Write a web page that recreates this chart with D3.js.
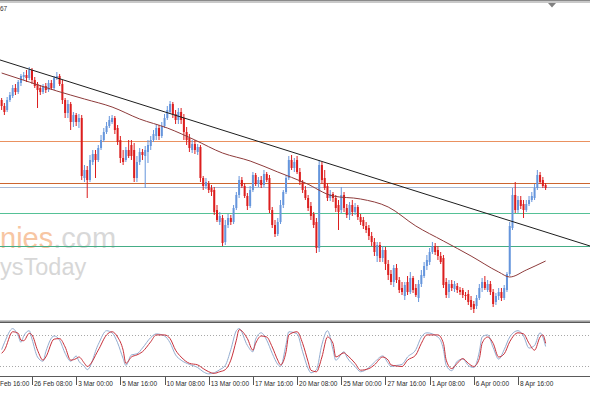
<!DOCTYPE html>
<html>
<head>
<meta charset="utf-8">
<script src="https://cdnjs.cloudflare.com/ajax/libs/d3/7.8.5/d3.min.js"></script>
<style>
body { margin: 0; background: #fff; }
svg { display: block; }
</style>
</head>
<body>
<div id="chart"></div>
<script>
var w = 590;
var h = 393;

// H4 bars, one row each: open, high, low, close
var ohlc = [
[300,302,290,294],[294,297,285,288],[290,303,288,300],[300,308,298,305],[304,315,302,312],
[312,316,305,308],[308,320,306,318],[317,326,314,324],[323,328,320,325],[325,330,318,322],
[322,333,320,330],[330,332,316,320],[320,323,312,314],[316,318,292,310],[312,315,305,308],
[308,316,306,314],[314,317,307,310],[310,320,308,317],[317,320,310,312],[312,324,310,322],
[322,328,320,324],[324,326,314,316],[316,320,296,300],[300,302,282,287],[287,300,282,296],
[296,298,270,278],[278,288,273,285],[285,287,274,278],[278,286,272,282],[282,285,220,224],
[222,235,218,230],[230,234,202,220],[220,245,218,240],[238,250,235,246],[246,250,222,240],
[240,255,238,252],[252,265,250,260],[260,272,258,268],[268,278,266,274],[274,284,272,280],
[278,285,276,282],[282,284,266,270],[272,275,255,258],[260,264,237,242],[242,250,235,238],
[240,253,238,250],[250,260,242,244],[255,260,240,244],[250,257,218,222],[222,244,218,238],
[238,252,235,248],[248,251,240,245],[244,254,212,250],[248,260,237,255],[254,264,250,260],
[260,270,258,266],[264,276,260,272],[272,275,260,264],[264,278,262,274],[274,286,272,282],
[282,294,280,290],[288,299,286,296],[296,298,282,286],[286,290,276,280],[280,292,276,288],
[288,292,276,280],[282,286,260,268],[268,273,255,260],[262,266,248,252],[250,260,247,256],
[256,260,246,250],[248,256,245,253],[253,255,218,222],[222,224,210,214],[214,222,211,218],
[216,219,207,210],[212,215,204,208],[210,213,185,188],[190,195,178,180],[178,188,175,184],
[182,185,154,157],[158,180,155,175],[175,186,172,182],[182,185,175,178],[178,195,176,192],
[192,208,190,205],[205,224,202,220],[220,223,212,214],[214,217,202,204],[204,207,190,194],
[194,214,192,210],[210,228,208,225],[225,227,214,216],[216,223,213,220],[220,224,212,215],
[215,230,213,226],[226,228,218,220],[222,225,187,190],[190,193,172,175],[175,180,163,166],
[166,182,164,178],[178,200,176,195],[195,210,192,208],[208,225,206,222],[222,244,220,240],
[240,245,230,232],[232,242,228,238],[240,244,226,228],[228,232,215,218],[218,220,207,210],
[210,214,200,202],[202,205,189,192],[194,198,180,184],[186,188,172,175],[178,182,147,152],
[152,240,148,235],[235,238,216,220],[222,230,210,212],[214,217,199,202],[202,210,199,206],
[206,208,198,202],[202,205,188,192],[195,200,170,188],[190,213,187,205],[205,208,188,192],
[192,196,182,185],[185,198,180,195],[195,200,184,188],[188,197,185,193],[193,195,180,183],
[183,186,175,178],[180,183,171,174],[174,178,167,170],[172,175,160,164],[164,168,154,158],
[158,162,144,148],[144,158,138,155],[155,158,138,142],[142,154,138,150],[150,153,130,136],
[136,140,120,125],[126,130,115,118],[118,135,113,132],[132,136,117,120],[120,123,107,110],
[112,118,105,108],[104,118,100,115],[118,124,105,108],[108,128,106,122],[122,124,107,110],
[112,116,103,105],[102,120,98,116],[116,130,113,125],[124,138,122,134],[134,145,130,140],
[138,152,135,148],[148,158,146,154],[154,157,145,148],[150,154,140,144],[144,148,136,138],
[142,145,112,115],[118,122,102,105],[108,120,102,116],[116,120,109,112],[111,119,108,116],
[114,117,107,110],[110,113,105,108],[110,112,102,105],[105,108,100,104],[106,110,95,98],
[100,104,90,93],[96,99,87,91],[94,105,91,102],[102,116,100,112],[112,122,108,118],
[118,124,110,112],[110,120,108,116],[116,119,105,108],[108,111,93,96],[98,107,95,104],
[104,112,100,108],[108,112,99,102],[102,115,100,112],[110,128,108,126],[126,178,124,174],
[172,212,170,205],[205,218,187,190],[190,204,187,200],[200,204,191,194],[196,200,182,190],
[190,200,188,196],[196,204,194,200],[200,208,198,204],[202,216,200,212],[212,230,210,225],
[225,228,216,218],[220,223,212,214],[215,217,210,212]
];

var maIndex = [0,10,20,30,40,50,60,70,80,90,100,110,120,130,140,150,160,170,180,184,190,197];
var maValues = [327,318,309,301,293,281,272,260,247,239,228,217,204,201,193,174,159,144,128,123,130,139];

// trend line end points (bar, price)
var trendIndex = [-1, 214];
var trendValues = [340.4, 153.2];

// horizontal levels
var levelValues = [259, 217.5, 212.7, 187.3, 154];
var levelColors = ["#ea9160", "#cc6630", "#a9bad6", "#55c196", "#45ad86"];

// stochastic oscillator
var stochIndex = [0,1,4,6,7,8,10,11,13,15,16,19,21,23,25,27,28,30,31,35,38,40,42,44,45,47,49,51,54,56,
  59,61,63,65,68,71,73,75,77,79,81,83,85,86,89,91,92,94,96,98,100,101,103,104,107,109,111,112,114,116,
  118,120,121,124,125,128,130,133,135,138,140,141,143,145,147,150,152,154,158,160,161,163,165,167,169,171,173,174,176,178,
  180,182,184,187,189,191,193,195,196,197];
var stochMain = [52,65,92,78,66,78,88,72,38,30,48,78,70,45,30,40,30,20,14,62,88,84,65,35,22,42,44,55,75,82,
  78,65,42,32,24,18,10,6,8,14,22,52,88,92,60,48,72,84,70,45,24,20,62,86,82,48,16,8,14,62,
  88,52,32,48,38,20,10,18,28,40,26,20,22,24,38,52,76,84,76,52,22,12,30,34,22,18,48,76,80,56,
  34,52,76,88,78,55,60,84,76,58];
var stochSignal = [45,51,86,83,70,69,83,80,51,32,38,72,73,57,32,35,38,26,20,51,80,86,76,51,26,38,42,48,67,80,
  80,73,51,38,26,23,16,10,7,10,14,32,70,90,73,51,64,78,76,57,32,23,48,80,86,64,29,13,10,38,
  76,64,38,46,42,26,13,16,23,38,32,23,21,20,32,42,64,80,80,64,32,16,26,35,26,20,35,64,76,64,
  38,44,67,84,82,64,51,76,80,64];
var stochLevels = [80, 20];

// time axis (first label is cut at the left edge in the picture)
var tickIndex = [-5,11,27,43,59,75,91,107,123,139,155,171,187];
var tickLabels = ["Feb 16:00","26 Feb 08:00","3 Mar 00:00","5 Mar 16:00","10 Mar 08:00","13 Mar 00:00",
  "17 Mar 16:00","20 Mar 08:00","25 Mar 00:00","27 Mar 16:00","1 Apr 08:00","6 Apr 00:00","8 Apr 16:00"];

var upColor = "#6595dc";
var downColor = "#dc1e1e";

var x = d3.scaleLinear().domain([11, 187]).range([32, 518]);
var y = d3.scaleLinear().domain([82, 397]).range([318, 3]);
var ys = d3.scaleLinear().domain([0, 100]).range([377, 324.4]);

var svg = d3.select("#chart").append("svg")
  .attr("width", w)
  .attr("height", h)
  .style("font-family", "'Liberation Sans', Arial, sans-serif");

svg.append("defs").append("clipPath").attr("id", "mainClip")
  .append("rect").attr("x", 0).attr("y", 3).attr("width", w).attr("height", 317);
svg.select("defs").append("clipPath").attr("id", "subClip")
  .append("rect").attr("x", 0).attr("y", 324).attr("width", w).attr("height", 52);

// top frame
svg.append("rect").attr("x", 0).attr("y", 0).attr("width", w).attr("height", 1).attr("fill", "#8a8a8a");
svg.append("rect").attr("x", 0).attr("y", 1).attr("width", w).attr("height", 2).attr("fill", "#c9c9c9");
svg.append("text").attr("x", 0).attr("y", 11).attr("font-size", 6.5).attr("fill", "#333").text("67");
svg.append("path")
  .attr("d", "M548,3 L556,3 L552,7.5 Z")
  .attr("fill", "#808080");

var main = svg.append("g").attr("clip-path", "url(#mainClip)");

// watermark
var wm = main.append("g");
var wm1 = wm.append("text").attr("x", 0).attr("y", 248).attr("font-size", 29);
wm1.append("tspan").attr("fill", "#f7c6a3").text("nies");
wm1.append("tspan").attr("fill", "#d8d8d8").text(".com");
wm.append("text").attr("x", 0).attr("y", 275).attr("font-size", 23.5)
  .attr("fill", "#d7d7d7").text("ysToday");

// horizontal levels
main.selectAll("line.level")
  .data(levelValues)
  .enter()
  .append("line")
  .attr("class", "level")
  .attr("x1", 0)
  .attr("x2", w)
  .attr("y1", function (d) { return Math.round(y(d)) + 0.5; })
  .attr("y2", function (d) { return Math.round(y(d)) + 0.5; })
  .attr("stroke", function (d, i) { return levelColors[i]; })
  .attr("stroke-width", 1);

// candles
var candles = main.append("g");
candles.selectAll("line.wick")
  .data(ohlc)
  .enter()
  .append("line")
  .attr("class", "wick")
  .attr("x1", function (d, i) { return x(i); })
  .attr("x2", function (d, i) { return x(i); })
  .attr("y1", function (d) { return y(d[1]); })
  .attr("y2", function (d) { return y(d[2]); })
  .attr("stroke", function (d) { return d[3] >= d[0] ? upColor : downColor; })
  .attr("stroke-width", 1);

candles.selectAll("rect.body")
  .data(ohlc)
  .enter()
  .append("rect")
  .attr("class", "body")
  .attr("x", function (d, i) { return x(i) - 1; })
  .attr("y", function (d) { return y(Math.max(d[0], d[3])); })
  .attr("width", 2)
  .attr("height", function (d) { return Math.max(1, Math.abs(y(d[0]) - y(d[3]))); })
  .attr("fill", function (d) { return d[3] >= d[0] ? upColor : downColor; });

// moving average
var maLine = d3.line()
  .x(function (d) { return x(d); })
  .y(function (d, i) { return y(maValues[i]); })
  .curve(d3.curveMonotoneX);
main.append("path")
  .attr("d", maLine(maIndex))
  .attr("fill", "none")
  .attr("stroke", "#8e3b3b")
  .attr("stroke-width", 1);

// trend line
main.append("line")
  .attr("x1", x(trendIndex[0]))
  .attr("y1", y(trendValues[0]))
  .attr("x2", x(trendIndex[1]))
  .attr("y2", y(trendValues[1]))
  .attr("stroke", "#1e1e1e")
  .attr("stroke-width", 1);

// panel separator
svg.append("rect").attr("x", 0).attr("y", 320).attr("width", w).attr("height", 1.5).attr("fill", "#c4c4c4");
svg.append("rect").attr("x", 0).attr("y", 321.5).attr("width", w).attr("height", 1.5).attr("fill", "#5a5a5a");

// stochastic panel
var sub = svg.append("g").attr("clip-path", "url(#subClip)");
sub.selectAll("line.slevel")
  .data(stochLevels)
  .enter()
  .append("line")
  .attr("class", "slevel")
  .attr("x1", 0)
  .attr("x2", w)
  .attr("y1", function (d) { return Math.round(ys(d)) + 0.5; })
  .attr("y2", function (d) { return Math.round(ys(d)) + 0.5; })
  .attr("stroke", "#a8a8a8")
  .attr("stroke-dasharray", "1,2");

var mainLine = d3.line()
  .x(function (d) { return x(d); })
  .y(function (d, i) { return ys(stochMain[i]); })
  .curve(d3.curveMonotoneX);
var signalLine = d3.line()
  .x(function (d) { return x(d); })
  .y(function (d, i) { return ys(stochSignal[i]); })
  .curve(d3.curveMonotoneX);

sub.append("path")
  .attr("d", mainLine(stochIndex))
  .attr("fill", "none")
  .attr("stroke", "#93acd0")
  .attr("stroke-width", 1);
sub.append("path")
  .attr("d", signalLine(stochIndex))
  .attr("fill", "none")
  .attr("stroke", "#c8303a")
  .attr("stroke-width", 1);

// time axis
svg.append("rect").attr("x", 0).attr("y", 376).attr("width", w).attr("height", 1).attr("fill", "#5a5a5a");

var ticks = svg.append("g");
ticks.selectAll("line")
  .data(tickIndex)
  .enter()
  .append("line")
  .attr("x1", function (d) { return Math.round(x(d)) + 0.5; })
  .attr("x2", function (d) { return Math.round(x(d)) + 0.5; })
  .attr("y1", 377)
  .attr("y2", 385)
  .attr("stroke", "#555");

ticks.selectAll("text")
  .data(tickIndex)
  .enter()
  .append("text")
  .attr("x", function (d) { return Math.max(0, x(d) + 2); })
  .attr("y", 385.5)
  .attr("font-size", 6.5)
  .attr("fill", "#2a2a2a")
  .text(function (d, i) { return tickLabels[i]; });
</script>
</body>
</html>
